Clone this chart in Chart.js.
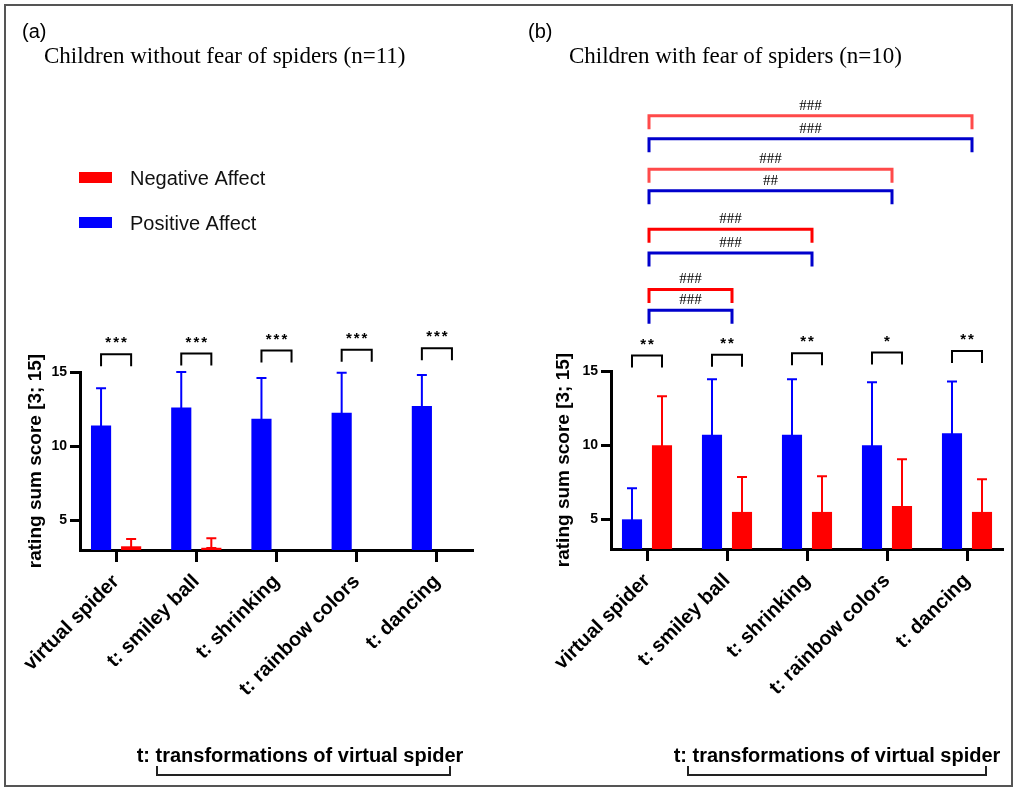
<!DOCTYPE html>
<html>
<head>
<meta charset="utf-8">
<script src="https://cdn.jsdelivr.net/npm/chart.js@4.4.1/dist/chart.umd.min.js"></script>
<style>
  html, body { margin: 0; padding: 0; background: #fff; }
  #page { position: relative; width: 1017px; height: 789px; overflow: hidden; }
  #frame { position: absolute; left: 4px; top: 4px; width: 1009px; height: 783px; border: 2px solid #555; box-sizing: border-box; }
  canvas { position: absolute; top: 0; }
  #chartA { left: 0; }
  #chartB { left: 508px; }
</style>
</head>
<body>
<div id="page">
  <div id="frame"></div>
  <canvas id="chartA" width="508" height="789"></canvas>
  <canvas id="chartB" width="509" height="789"></canvas>
</div>
<script>
// categories and tick values
const categories = ['virtual spider', 't: smiley ball', 't: shrinking', 't: rainbow colors', 't: dancing'];
const yTicks = [5, 10, 15];

// (a) children without fear of spiders, mean and SD
const posAffectA = [11.4, 12.6, 11.85, 12.25, 12.7];
const posAffectA_sd = [2.5, 2.4, 2.75, 2.7, 2.1];
const negAffectA = [3.25, 3.15, 3, 3, 3];
const negAffectA_sd = [0.5, 0.65, 0, 0, 0];
const sigA = ['***', '***', '***', '***', '***'];
const sigA_level = [16.2, 16.25, 16.45, 16.5, 16.6];

// (b) children with fear of spiders
const posAffectB = [5.0, 10.7, 10.7, 10.0, 10.8];
const posAffectB_sd = [2.1, 3.75, 3.75, 4.25, 3.5];
const negAffectB = [10.0, 5.5, 5.5, 5.9, 5.5];
const negAffectB_sd = [3.3, 2.35, 2.4, 3.15, 2.2];
const sigB = ['**', '**', '**', '*', '**'];
const sigB_level = [16.05, 16.1, 16.2, 16.25, 16.35];

// (b) comparisons against the virtual spider
const compTarget = [1, 2, 3, 4];
const compNegLabel = ['###', '###', '###', '###'];
const compNegLevel = [20.5, 24.55, 28.6, 32.2];
const compPosLabel = ['###', '###', '##', '###'];
const compPosLevel = [19.1, 22.95, 27.15, 30.65];

const BLUE = '#0000ff';
const RED = '#ff0000';
const SANS = '"Liberation Sans", Arial, sans-serif';
const SERIF = '"Liberation Serif", "Times New Roman", serif';

const decorations = {
    id: 'decorations',
    afterDatasetsDraw(chart) {
        const ctx = chart.ctx;
        const y = chart.scales.y;
        chart.data.datasets.forEach((ds, di) => {
            const meta = chart.getDatasetMeta(di);
            ctx.save();
            ctx.strokeStyle = ds.backgroundColor;
            ctx.lineWidth = 2;
            meta.data.forEach((bar, i) => {
                const sd = ds.sd[i];
                if (!sd) return;
                const v = ds.data[i].y;
                const top = y.getPixelForValue(v + sd);
                const low = Math.min(y.getPixelForValue(v - sd), y.bottom - 2);
                ctx.beginPath();
                ctx.moveTo(bar.x, low);
                ctx.lineTo(bar.x, top);
                ctx.moveTo(bar.x - 5, top);
                ctx.lineTo(bar.x + 5, top);
                ctx.moveTo(bar.x - 5, low);
                ctx.lineTo(bar.x + 5, low);
                ctx.stroke();
            });
            ctx.restore();
        });
    },
    afterDraw(chart, args, o) {
        const ctx = chart.ctx;
        const x = chart.scales.x, y = chart.scales.y;
        const m0 = chart.getDatasetMeta(0), m1 = chart.getDatasetMeta(1);
        ctx.save();

        // panel tag and title
        ctx.fillStyle = '#000';
        ctx.textBaseline = 'alphabetic';
        ctx.textAlign = 'left';
        ctx.font = '20px ' + SANS;
        ctx.fillText(o.tag, o.tagX, 38);
        ctx.font = '23px ' + SERIF;
        ctx.fillText(o.title, o.titleX, 63);

        // legend (negative first)
        if (o.legend) {
            const items = chart.data.datasets.slice().reverse();
            items.forEach((ds, k) => {
                const top = 172 + k * 45;
                ctx.fillStyle = ds.backgroundColor;
                ctx.fillRect(79, top, 33, 11);
                ctx.fillStyle = '#111';
                ctx.font = '20px ' + SANS;
                ctx.fillText(ds.label, 130, top + 13);
            });
        }

        // significance brackets between the two bars
        ctx.strokeStyle = '#000';
        ctx.lineWidth = 2;
        ctx.fillStyle = '#000';
        ctx.textAlign = 'center';
        ctx.textBaseline = 'middle';
        ctx.font = 'bold 15px ' + SANS;
        ctx.letterSpacing = '2px';
        o.sig.forEach((s, i) => {
            const x0 = m0.data[i].x, x1 = m1.data[i].x;
            const top = y.getPixelForValue(o.sigLevel[i]);
            ctx.beginPath();
            ctx.moveTo(x0, top + 12);
            ctx.lineTo(x0, top);
            ctx.lineTo(x1, top);
            ctx.lineTo(x1, top + 12);
            ctx.stroke();
            ctx.fillText(s, (x0 + x1) / 2 + 1, top - 11);
        });
        ctx.letterSpacing = '0px';

        // comparisons against first category
        if (o.comp) {
            ctx.lineWidth = 3;
            ctx.font = '15px ' + SERIF;
            o.comp.target.forEach((t, k) => {
                const x0 = x.getPixelForValue(0) + 2;
                const x1 = x.getPixelForValue(t) + 5;
                [[o.comp.negLevel[k], o.comp.negLabel[k], k >= 2 ? '#ff4a4a' : RED],
                 [o.comp.posLevel[k], o.comp.posLabel[k], '#0000cc']].forEach(([lvl, lab, col]) => {
                    const top = y.getPixelForValue(lvl);
                    ctx.strokeStyle = col;
                    ctx.beginPath();
                    ctx.moveTo(x0, top + 13.5);
                    ctx.lineTo(x0, top);
                    ctx.lineTo(x1, top);
                    ctx.lineTo(x1, top + 13.5);
                    ctx.stroke();
                    ctx.fillStyle = '#000';
                    ctx.fillText(lab, (x0 + x1) / 2, top - 10);
                });
            });
        }

        // caption with bracket
        ctx.fillStyle = '#000';
        ctx.textBaseline = 'alphabetic';
        ctx.font = 'bold 20px ' + SANS;
        ctx.fillText('t: transformations of virtual spider', o.capX, 762);
        ctx.strokeStyle = '#222';
        ctx.lineWidth = 2;
        ctx.beginPath();
        ctx.moveTo(o.capL, 766);
        ctx.lineTo(o.capL, 775);
        ctx.lineTo(o.capR, 775);
        ctx.lineTo(o.capR, 766);
        ctx.stroke();
        ctx.restore();
    }
};

function buildChart(id, cfg) {
    const points = arr => arr.map((v, i) => ({ x: i, y: v }));
    return new Chart(document.getElementById(id), {
        type: 'bar',
        data: {
            datasets: [
                { label: 'Positive Affect', data: points(cfg.pos), sd: cfg.posSd, backgroundColor: BLUE, base: 3 },
                { label: 'Negative Affect', data: points(cfg.neg), sd: cfg.negSd, backgroundColor: RED, base: 3 }
            ]
        },
        options: {
            responsive: false,
            animation: false,
            categoryPercentage: 0.75,
            barPercentage: 0.67,
            layout: { padding: { top: cfg.top, left: 0, right: cfg.padRight, bottom: 0 } },
            scales: {
                x: {
                    type: 'linear',
                    min: -0.45,
                    max: categories.length - 0.55,
                    offset: false,
                    border: { color: '#000', width: 3 },
                    grid: { offset: false, drawOnChartArea: false, tickLength: 12, tickWidth: 3, tickColor: '#000' },
                    ticks: {
                        color: '#000', autoSkip: false, minRotation: 45, maxRotation: 45, padding: 8,
                        font: { family: SANS, size: 20, weight: 'bold' },
                        callback: v => categories[v]
                    },
                    afterBuildTicks: s => { s.ticks = categories.map((c, i) => ({ value: i })); },
                    afterFit: s => { s.height = cfg.xHeight; }
                },
                y: {
                    min: 3,
                    max: 15,
                    border: { color: '#000', width: 3 },
                    grid: { drawOnChartArea: false, tickLength: 10, tickWidth: 3, tickColor: '#000' },
                    ticks: { color: '#000', padding: 3, font: { family: SANS, size: 14, weight: 'bold' } },
                    title: {
                        display: true,
                        text: 'rating sum score [3; 15]',
                        color: '#000',
                        font: { family: SANS, size: 19, weight: 'bold' },
                        padding: { top: cfg.titlePad, bottom: 0 }
                    },
                    afterBuildTicks: s => { s.ticks = yTicks.map(v => ({ value: v })); },
                    afterFit: s => { s.width = cfg.yWidth; }
                }
            },
            plugins: {
                legend: { display: false },
                tooltip: { enabled: false },
                decorations: cfg.deco
            }
        },
        plugins: [decorations]
    });
}

buildChart('chartA', {
    pos: posAffectA, posSd: posAffectA_sd, neg: negAffectA, negSd: negAffectA_sd,
    top: 372, padRight: 35, xHeight: 239, yWidth: 80, titlePad: 24,
    deco: {
        tag: '(a)', tagX: 22, title: 'Children without fear of spiders (n=11)', titleX: 44,
        legend: true, sig: sigA, sigLevel: sigA_level,
        capX: 300, capL: 157, capR: 450
    }
});

buildChart('chartB', {
    pos: posAffectB, posSd: posAffectB_sd, neg: negAffectB, negSd: negAffectB_sd,
    top: 371, padRight: 14, xHeight: 240, yWidth: 103, titlePad: 44,
    deco: {
        tag: '(b)', tagX: 20, title: 'Children with fear of spiders (n=10)', titleX: 61,
        legend: false, sig: sigB, sigLevel: sigB_level,
        comp: { target: compTarget, negLabel: compNegLabel, negLevel: compNegLevel, posLabel: compPosLabel, posLevel: compPosLevel },
        capX: 329, capL: 180, capR: 478
    }
});
</script>
</body>
</html>
